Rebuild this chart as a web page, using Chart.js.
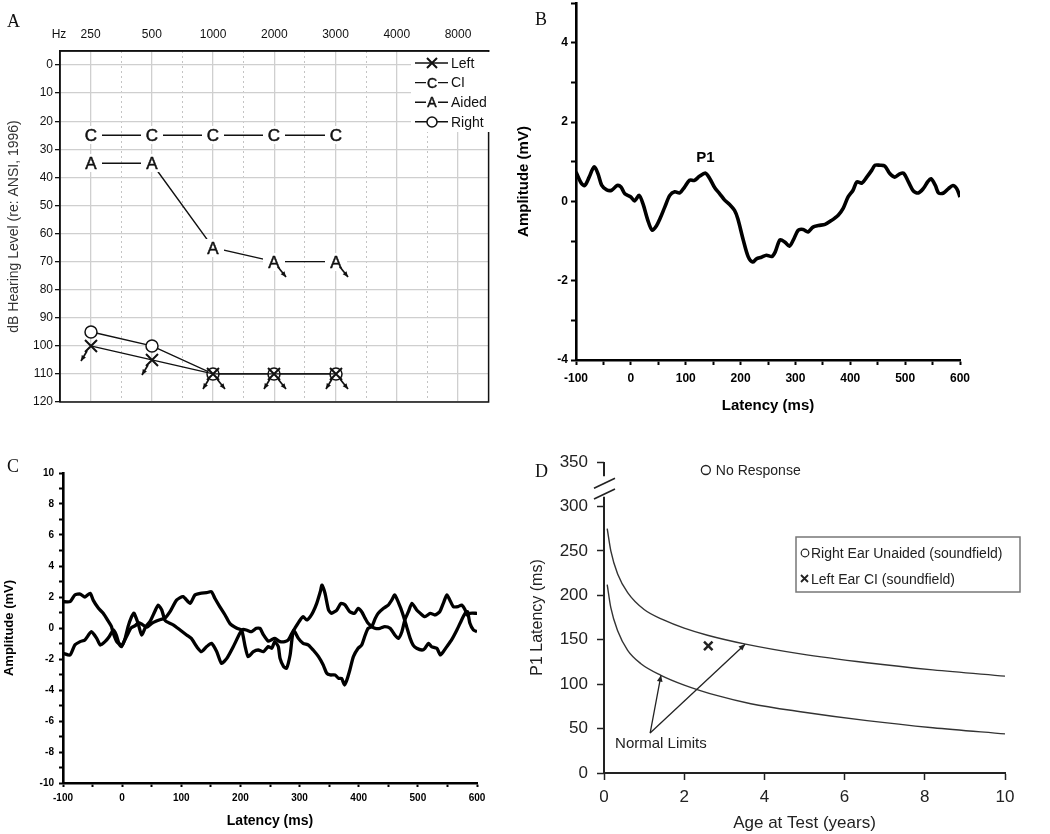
<!DOCTYPE html>
<html>
<head>
<meta charset="utf-8">
<title>Audiogram and P1 CAEP results</title>
<script src="https://cdn.jsdelivr.net/npm/chart.js@4.4.1/dist/chart.umd.min.js"></script>
<style>
  html, body { margin: 0; padding: 0; background: #fff; }
  #page { position: relative; width: 1050px; height: 834px; overflow: hidden; }
  #page canvas { position: absolute; }
  .tag { position: absolute; font-family: "Liberation Serif", "DejaVu Serif", serif; font-size: 18px; line-height: 18px; color: #111; }
</style>
</head>
<body>
<div id="page">
  <canvas id="chartA" width="500" height="420" style="left:0;top:0"></canvas>
  <canvas id="chartB" width="550" height="420" style="left:500px;top:0"></canvas>
  <canvas id="chartC" width="500" height="394" style="left:0;top:440px"></canvas>
  <canvas id="chartD" width="550" height="394" style="left:500px;top:440px"></canvas>
  <div class="tag" style="left:7px;top:12px">A</div>
  <div class="tag" style="left:535px;top:10px">B</div>
  <div class="tag" style="left:7px;top:457px">C</div>
  <div class="tag" style="left:535px;top:462px">D</div>
</div>
<script>
// panneau A : audiogramme
const freqLabels = ['250', '500', '1000', '2000', '3000', '4000', '8000'];
const halfSteps = [0.5, 1.5, 2.5, 3.5, 4.5, 5.5];
const dbTicks = [0, 10, 20, 30, 40, 50, 60, 70, 80, 90, 100, 110, 120];
const ciLevels = [25, 25, 25, 25, 25];
const aidedLevels = [35, 35, 65, 70, 70];
const aidedNoResponse = [false, false, false, true, true];
const rightLevels = [95, 100, 110, 110, 110];
const rightNoResponse = [false, false, true, true, true];
const leftLevels = [100, 105, 110, 110, 110];
const leftNoResponse = [true, true, true, true, true];
const legendLabels = ['Left', 'CI', 'Aided', 'Right'];
const legendKinds = ['X', 'C', 'A', 'O'];

// panneau B : onde P1 (oreille gauche, IC)
const bLatency = [-100, -90, -84, -76, -67, -60, -53, -44, -35, -25, -18, -11, 0, 7, 15, 22, 31, 39, 47, 53,
  62, 71, 80, 89, 98, 107, 116, 125, 136, 144, 153, 162, 171, 180, 189, 195, 205, 214, 222, 229,
  238, 247, 257, 263, 272, 281, 289, 296, 305, 314, 323, 332, 342, 354, 366, 378, 387, 396, 405, 412,
  421, 430, 439, 445, 454, 463, 472, 481, 490, 497, 506, 515, 524, 533, 541, 547, 555, 561, 570, 579,
  587, 594, 600];
const bAmplitude = [0.74, 0.45, 0.40, 0.61, 0.87, 0.70, 0.40, 0.29, 0.28, 0.40, 0.36, 0.19, 0.11, 0.01, 0.15, -0.06, -0.48, -0.73, -0.61, -0.44,
  -0.14, 0.15, 0.24, 0.21, 0.36, 0.53, 0.53, 0.63, 0.71, 0.57, 0.34, 0.19, 0.03, -0.08, -0.23, -0.44, -0.98, -1.40, -1.53, -1.45,
  -1.41, -1.36, -1.39, -1.28, -0.97, -1.03, -1.13, -0.98, -0.73, -0.71, -0.77, -0.65, -0.61, -0.58, -0.48, -0.35, -0.18, 0.11, 0.28, 0.49,
  0.46, 0.61, 0.78, 0.91, 0.91, 0.89, 0.70, 0.61, 0.69, 0.71, 0.49, 0.26, 0.21, 0.32, 0.49, 0.57, 0.40, 0.21, 0.21, 0.32,
  0.40, 0.32, 0.11];
const p1Label = { text: 'P1', latency: 136, amplitude: 1.1 };

// panneau C : deux tracés sans réponse (oreille droite)
const cLatency1 = [-100, -88, -80, -71, -63, -54, -49, -40, -32, -23, -18, -15, -9, 0, 5, 10, 16, 20, 27, 33,
  40, 47, 55, 61, 67, 72, 75, 87, 98, 109, 117, 126, 134, 143, 151, 160, 168, 177, 188, 199,
  204, 210, 219, 227, 233, 239, 247, 252, 258, 267, 275, 281, 287, 292, 301, 306, 312, 318, 323, 329,
  335, 338, 343, 349, 354, 363, 370, 377, 385, 393, 399, 405, 411, 416, 422, 428, 436, 444, 453, 461,
  467, 473, 478, 484, 490, 498, 504, 512, 521, 529, 537, 543, 549, 554, 560, 568, 574, 580, 583, 588, 600];
const cAmplitude1 = [1.70, 1.70, 2.13, 2.19, 2.00, 2.24, 1.80, 1.27, 0.95, 0.41, 0.09, -0.34, -0.88, -1.10, -0.67, 0.09, 0.73, 0.95, 0.30, -0.45,
  0.09, 0.41, 1.05, 1.48, 1.16, 0.52, 0.41, 0.19, -0.13, -0.45, -0.67, -1.20, -1.53, -1.20, -0.99, -1.53, -2.28, -1.96, -1.20, -0.34,
  -0.10, -0.13, -0.24, -0.02, -0.02, -0.45, -0.85, -0.77, -0.67, -0.88, -0.88, -0.77, -0.34, -0.02, 0.52, 0.73, 0.52, 0.73, 1.05, 1.59,
  2.34, 2.77, 2.24, 1.16, 0.95, 1.16, 1.59, 1.48, 1.05, 0.95, 1.27, 1.05, 0.62, 0.30, 0.09, -0.02, -0.02, 0.09, -0.02, -0.45,
  -0.67, -0.24, 0.52, 1.05, 1.59, 1.16, 0.95, 0.73, 0.95, 0.84, 1.05, 1.59, 2.13, 1.81, 1.38, 1.38, 1.48, 1.16, 0.84, 0.95, 0.95];
const cLatency2 = [-100, -88, -80, -71, -63, -52, -43, -37, -29, -22, -15, -10, -5, -1, 4, 10, 15, 22, 28, 35,
  42, 50, 58, 65, 72, 81, 92, 103, 115, 123, 132, 143, 151, 157, 165, 174, 182, 194, 202, 208,
  213, 222, 230, 239, 247, 253, 258, 264, 267, 273, 278, 284, 287, 290, 298, 306, 315, 323, 332, 340,
  346, 352, 360, 366, 371, 376, 380, 385, 391, 399, 405, 411, 416, 422, 428, 433, 442, 450, 456, 461,
  470, 476, 481, 487, 492, 498, 507, 512, 518, 523, 532, 538, 543, 549, 557, 566, 574, 580, 584, 588, 594, 600];
const cAmplitude2 = [-1.63, -1.74, -1.10, -0.88, -0.77, -0.24, -0.67, -1.10, -0.88, -0.56, -0.13, -0.45, -1.05, -1.20, -0.80, -0.35, 0.00, 0.15, 0.35, 0.20,
  0.05, 0.30, 0.45, 0.55, 0.62, 1.05, 1.80, 2.02, 1.59, 2.13, 2.24, 2.28, 2.34, 1.90, 1.38, 0.84, 0.30, -0.02, -0.13, -1.20,
  -1.85, -1.53, -1.42, -1.53, -1.20, -1.31, -0.88, -1.20, -1.96, -2.49, -2.60, -1.74, -0.77, -0.13, -0.67, -0.99, -1.10, -1.42, -1.85, -2.39,
  -2.92, -3.03, -3.03, -3.25, -3.25, -3.68, -3.35, -2.71, -1.85, -1.31, -1.10, -0.45, -0.02, 0.09, 0.62, 0.95, 1.27, 1.48, 1.81, 2.13,
  1.38, 0.73, 0.09, -0.67, -1.10, -1.31, -1.42, -1.31, -0.99, -1.20, -1.31, -1.74, -1.53, -1.20, -0.77, -0.13, 0.52, 0.95, 1.05, 0.30, -0.13, -0.24];

// panneau D : latence P1 vs âge
const upperAge = [0.08, 0.17, 0.34, 0.59, 1.0, 1.5, 2.0, 2.58, 3.53, 4.9, 6.56, 8.2, 10];
const upperLatency = [275, 250, 224, 203, 184, 172, 163, 155, 145, 134, 124, 116, 109];
const lowerAge = [0.08, 0.17, 0.34, 0.59, 0.92, 1.42, 2.0, 2.83, 3.66, 4.9, 6.56, 8.2, 10];
const lowerLatency = [212, 186, 160, 138, 123, 110, 99, 87, 78, 69, 59, 51, 44];
const leftCiAge = [2.6];
const leftCiLatency = [143];
const rightUnaidedAge = [2.54];
const rightUnaidedLatency = [341];
const dLegendLabels = ['Right Ear Unaided (soundfield)', 'Left Ear CI (soundfield)'];
const axisBreak = [311, 334];
const breakMarks = [314, 326];
const normalLimitsText = { text: 'Normal Limits', age: 1.42, latency: 33 };
const arrowTail = [1.15, 45];
const arrowHeads = [[1.42, 110], [3.52, 145]];

const INK = '#111';
const SANS = '"Liberation Sans", Arial, Helvetica, sans-serif';
Chart.defaults.font.family = SANS;
Chart.defaults.color = INK;
Chart.defaults.animation = false;

// fige la taille d'un axe (et annule le padding des étiquettes)
function fixBox(prop, size) {
  return scale => {
    scale[prop] = size;
    scale.paddingLeft = scale.paddingRight = scale.paddingTop = scale.paddingBottom = 0;
  };
}

function arrowLine(g, x1, y1, x2, y2, head) {
  g.beginPath(); g.moveTo(x1, y1); g.lineTo(x2, y2); g.stroke();
  const a = Math.atan2(y2 - y1, x2 - x1);
  g.beginPath();
  g.moveTo(x2, y2);
  g.lineTo(x2 - head * Math.cos(a - 0.42), y2 - head * Math.sin(a - 0.42));
  g.lineTo(x2 - head * Math.cos(a + 0.42), y2 - head * Math.sin(a + 0.42));
  g.closePath(); g.fill();
}

// symboles d'audiogramme dessinés dans un petit canvas (pointStyle)
function marker(kind, arrow, big) {
  const c = document.createElement('canvas');
  c.width = 44; c.height = 44;
  const g = c.getContext('2d');
  g.translate(22, 22);
  g.strokeStyle = INK; g.fillStyle = INK; g.lineWidth = 1.5;
  const r = big ? 6 : 5;
  if (kind === 'C' || kind === 'A') {
    const hw = big ? 11 : 6;
    g.fillStyle = '#fff'; g.fillRect(-hw, -9, 2 * hw, 18);
    g.fillStyle = INK;
    g.font = (big ? 17 : 14) + 'px ' + SANS;
    g.textAlign = 'center'; g.textBaseline = 'middle';
    g.fillText(kind, 0, 1);
    g.lineWidth = 0.5;
    g.strokeText(kind, 0, 1);
  } else if (kind === 'X') {
    g.lineWidth = 2;
    g.beginPath(); g.moveTo(-r, -r); g.lineTo(r, r); g.moveTo(r, -r); g.lineTo(-r, r); g.stroke();
  } else {
    g.beginPath(); g.arc(0, 0, r, 0, Math.PI * 2);
    g.fillStyle = '#fff'; g.fill(); g.stroke();
  }
  g.fillStyle = INK; g.lineWidth = 1.7;
  if (arrow === 'R') arrowLine(g, 4, 5, 12, 15, 6);
  if (arrow === 'L') arrowLine(g, -4, 5, -10, 15, 6);
  return c;
}

function audioSet(label, levels, kind, noResp, dir, order) {
  return {
    label, order, xAxisID: 'x', yAxisID: 'y',
    data: levels.map((v, i) => ({ x: i, y: v })),
    borderColor: INK, borderWidth: 1.4,
    pointStyle: levels.map((v, i) => marker(kind, noResp[i] ? dir : '', true)),
    pointRadius: 10
  };
}

const frameA = {
  id: 'frameA',
  beforeDatasetsDraw(chart) { chart.ctx.imageSmoothingEnabled = false; },
  afterDatasetsDraw(chart) { chart.ctx.imageSmoothingEnabled = true; },
  afterDraw(chart) {
    const g = chart.ctx, a = chart.chartArea;
    g.save();
    g.strokeStyle = INK; g.lineWidth = 1.5;
    g.strokeRect(a.left, a.top, a.right - a.left, a.bottom - a.top);
    g.font = '12px ' + SANS; g.fillStyle = INK;
    g.textAlign = 'center'; g.textBaseline = 'middle';
    g.fillText('Hz', 59, 35);
    // légende
    g.fillStyle = '#fff'; g.fillRect(411, 52, 80, 80);
    g.imageSmoothingEnabled = false;
    legendLabels.forEach((txt, i) => {
      const y = 63 + i * 19.6;
      g.strokeStyle = INK; g.lineWidth = 1.4;
      g.beginPath(); g.moveTo(415, y); g.lineTo(448, y); g.stroke();
      g.drawImage(marker(legendKinds[i], '', false), Math.round(431.5 - 22), Math.round(y - 22));
      g.fillStyle = INK; g.font = '14px ' + SANS;
      g.textAlign = 'left'; g.textBaseline = 'middle';
      g.fillText(txt, 451, y + 1);
    });
    g.restore();
  }
};

new Chart(document.getElementById('chartA'), {
  type: 'line',
  data: {
    datasets: [
      audioSet('CI', ciLevels, 'C', [false, false, false, false, false], '', 4),
      audioSet('Aided', aidedLevels, 'A', aidedNoResponse, 'R', 3),
      audioSet('Right', rightLevels, 'O', rightNoResponse, 'R', 2),
      audioSet('Left', leftLevels, 'X', leftNoResponse, 'L', 1)
    ]
  },
  options: {
    responsive: false, devicePixelRatio: 1, events: [],
    layout: { padding: { left: 0, top: 0, right: 8, bottom: 18 } },
    plugins: { legend: { display: false }, tooltip: { enabled: false } },
    scales: {
      x: {
        type: 'linear', position: 'top', min: -0.5, max: 6.5,
        afterBuildTicks: s => { s.ticks = freqLabels.map((f, i) => ({ value: i })); },
        afterFit: fixBox('height', 51),
        ticks: { callback: v => freqLabels[v], font: { size: 12 }, color: INK, padding: 9, maxRotation: 0, autoSkip: false },
        grid: { color: '#cfcfcf', lineWidth: 1.3, drawTicks: false },
        border: { color: INK, width: 1.5 }
      },
      xHalf: {
        type: 'linear', position: 'top', min: -0.5, max: 6.5,
        afterBuildTicks: s => { s.ticks = halfSteps.map(v => ({ value: v })); },
        afterFit: fixBox('height', 0),
        ticks: { display: false },
        grid: { color: '#c4c4c4', lineWidth: 1, drawTicks: false },
        border: { display: false, dash: [2, 3] }
      },
      y: {
        type: 'linear', reverse: true, min: -5, max: 120,
        afterBuildTicks: s => { s.ticks = dbTicks.map(v => ({ value: v })); },
        afterFit: fixBox('width', 60),
        ticks: { font: { size: 12 }, color: INK, padding: 2 },
        grid: { color: '#cfcfcf', lineWidth: 1.3, tickColor: INK, tickLength: 5 },
        border: { color: INK, width: 1.5 },
        title: { display: true, text: 'dB Hearing Level (re: ANSI, 1996)', font: { size: 14 }, color: '#333', padding: { top: 6, bottom: 0 } }
      }
    }
  },
  plugins: [frameA]
});

// --- B
const p1Plugin = {
  id: 'p1Plugin',
  afterDatasetsDraw(chart) {
    const g = chart.ctx;
    g.save();
    g.font = 'bold 15px ' + SANS; g.fillStyle = '#000';
    g.textAlign = 'center'; g.textBaseline = 'middle';
    g.fillText(p1Label.text, chart.scales.x.getPixelForValue(p1Label.latency), chart.scales.y.getPixelForValue(p1Label.amplitude));
    g.restore();
  }
};

function waveAxes(o) {
  return {
    x: {
      type: 'linear', min: -100, max: 600, afterFit: fixBox('height', o.xh),
      ticks: { stepSize: 50, autoSkip: false, maxRotation: 0, padding: o.xpad, font: { size: o.tick, weight: 'bold' }, color: '#000',
        callback: v => v % 100 === 0 ? String(v) : '' },
      grid: { drawOnChartArea: false, tickLength: o.tl, tickWidth: 2, tickColor: '#000' },
      border: { color: '#000', width: 2.6 },
      title: { display: true, text: 'Latency (ms)', font: { size: o.xt, weight: 'bold' }, color: '#000', padding: { top: 0, bottom: o.xtb } }
    },
    y: {
      type: 'linear', min: o.ymin, max: o.ymax, afterFit: fixBox('width', o.yw),
      ticks: { stepSize: 1, autoSkip: false, padding: o.ypad, font: { size: o.tick, weight: 'bold' }, color: '#000',
        callback: v => (v % 2 === 0 && v <= o.ylab) ? String(v) : '' },
      grid: { drawOnChartArea: false, tickLength: o.tl, tickWidth: 2, tickColor: '#000' },
      border: { color: '#000', width: 2.6 },
      title: { display: true, text: 'Amplitude (mV)', font: { size: o.yt, weight: 'bold' }, color: '#000', padding: { top: o.ytp, bottom: 0 } }
    }
  };
}

new Chart(document.getElementById('chartB'), {
  type: 'line',
  data: {
    datasets: [{
      data: bLatency.map((t, i) => ({ x: t, y: bAmplitude[i] })),
      borderColor: '#000', borderWidth: 3.6, pointRadius: 0, tension: 0.3
    }]
  },
  options: {
    responsive: false, devicePixelRatio: 1, events: [],
    layout: { padding: { left: 0, top: 3, right: 90, bottom: 0 } },
    plugins: { legend: { display: false }, tooltip: { enabled: false } },
    scales: waveAxes({ xh: 60, yw: 76, xpad: 6, ypad: 3, tick: 12, tl: 5, xt: 15, xtb: 5, yt: 15, ytp: 15, ymin: -4, ymax: 5, ylab: 4 })
  },
  plugins: [p1Plugin]
});

// --- C
new Chart(document.getElementById('chartC'), {
  type: 'line',
  data: {
    datasets: [
      { data: cLatency1.map((t, i) => ({ x: t, y: cAmplitude1[i] })), borderColor: '#000', borderWidth: 3.3, pointRadius: 0, tension: 0.2 },
      { data: cLatency2.map((t, i) => ({ x: t, y: cAmplitude2[i] })), borderColor: '#000', borderWidth: 3.3, pointRadius: 0, tension: 0.2 }
    ]
  },
  options: {
    responsive: false, devicePixelRatio: 1, events: [],
    layout: { padding: { left: 0, top: 33, right: 23, bottom: 0 } },
    plugins: { legend: { display: false }, tooltip: { enabled: false } },
    scales: waveAxes({ xh: 51, yw: 63, xpad: 5, ypad: 5, tick: 10, tl: 4, xt: 14, xtb: 4, yt: 13, ytp: 2, ymin: -10, ymax: 10, ylab: 10 })
  }
});

// --- D
const dPlugin = {
  id: 'dPlugin',
  afterDatasetsDraw(chart) {
    const g = chart.ctx, xs = chart.scales.x, ys = chart.scales.y;
    const ax = chart.chartArea.left;
    g.save();
    // axe Y interrompu
    g.strokeStyle = '#222'; g.lineWidth = 2;
    g.beginPath();
    g.moveTo(ax, ys.getPixelForValue(0)); g.lineTo(ax, ys.getPixelForValue(axisBreak[0]));
    g.moveTo(ax, ys.getPixelForValue(axisBreak[1])); g.lineTo(ax, ys.getPixelForValue(350));
    g.stroke();
    g.lineWidth = 1.6;
    breakMarks.forEach(v => {
      const y = ys.getPixelForValue(v);
      g.beginPath(); g.moveTo(ax - 10, y + 5); g.lineTo(ax + 11, y - 5); g.stroke();
    });
    // "No Response"
    g.fillStyle = '#222'; g.font = '14px ' + SANS;
    g.textAlign = 'left'; g.textBaseline = 'middle';
    g.fillText('No Response', xs.getPixelForValue(rightUnaidedAge[0]) + 10, ys.getPixelForValue(rightUnaidedLatency[0]) + 1);
    // Normal Limits + flèches
    g.font = '15px ' + SANS; g.textAlign = 'center';
    g.fillText(normalLimitsText.text, xs.getPixelForValue(normalLimitsText.age), ys.getPixelForValue(normalLimitsText.latency));
    g.strokeStyle = '#222'; g.lineWidth = 1.3;
    arrowHeads.forEach(h => {
      arrowLine(g, xs.getPixelForValue(arrowTail[0]), ys.getPixelForValue(arrowTail[1]),
        xs.getPixelForValue(h[0]), ys.getPixelForValue(h[1]), 7);
    });
    // légende
    g.strokeStyle = '#777'; g.lineWidth = 1.5;
    g.strokeRect(296, 97, 224, 55);
    g.fillStyle = '#222'; g.font = '14px ' + SANS; g.textAlign = 'left';
    g.strokeStyle = '#222'; g.lineWidth = 1.2;
    g.beginPath(); g.arc(305, 113, 3.8, 0, Math.PI * 2); g.stroke();
    g.fillText(dLegendLabels[0], 311, 114);
    g.lineWidth = 1.8;
    g.beginPath(); g.moveTo(301, 135); g.lineTo(308, 142); g.moveTo(308, 135); g.lineTo(301, 142); g.stroke();
    g.fillText(dLegendLabels[1], 311, 140);
    g.restore();
  }
};

new Chart(document.getElementById('chartD'), {
  type: 'line',
  data: {
    datasets: [
      { data: upperAge.map((a, i) => ({ x: a, y: upperLatency[i] })), borderColor: '#333', borderWidth: 1.4, pointRadius: 0, cubicInterpolationMode: 'monotone' },
      { data: lowerAge.map((a, i) => ({ x: a, y: lowerLatency[i] })), borderColor: '#333', borderWidth: 1.4, pointRadius: 0, cubicInterpolationMode: 'monotone' },
      { data: leftCiAge.map((a, i) => ({ x: a, y: leftCiLatency[i] })), showLine: false, pointStyle: 'crossRot', pointRadius: 6, borderWidth: 2.5, borderColor: '#222' },
      { data: rightUnaidedAge.map((a, i) => ({ x: a, y: rightUnaidedLatency[i] })), showLine: false, pointStyle: 'circle', pointRadius: 4.5, borderWidth: 1.3, borderColor: '#222', backgroundColor: '#fff' }
    ]
  },
  options: {
    responsive: false, devicePixelRatio: 1, events: [],
    layout: { padding: { left: 0, top: 22, right: 45, bottom: 0 } },
    plugins: { legend: { display: false }, tooltip: { enabled: false } },
    scales: {
      x: {
        type: 'linear', min: 0, max: 10, afterFit: fixBox('height', 61),
        ticks: { stepSize: 2, font: { size: 17 }, color: '#222', padding: 7, maxRotation: 0 },
        grid: { drawOnChartArea: false, tickLength: 7, tickWidth: 1.5, tickColor: '#222' },
        border: { color: '#222', width: 2 },
        title: { display: true, text: 'Age at Test (years)', font: { size: 17 }, color: '#222', padding: { top: 0, bottom: 0 } }
      },
      y: {
        type: 'linear', min: 0, max: 350, afterFit: fixBox('width', 104),
        ticks: { stepSize: 50, font: { size: 17 }, color: '#222', padding: 9 },
        grid: { drawOnChartArea: false, tickLength: 7, tickWidth: 1.5, tickColor: '#222' },
        border: { display: false },
        title: { display: true, text: 'P1 Latency (ms)', font: { size: 16 }, color: '#222', padding: { top: 28, bottom: 0 } }
      }
    }
  },
  plugins: [dPlugin]
});
</script>
</body>
</html>
